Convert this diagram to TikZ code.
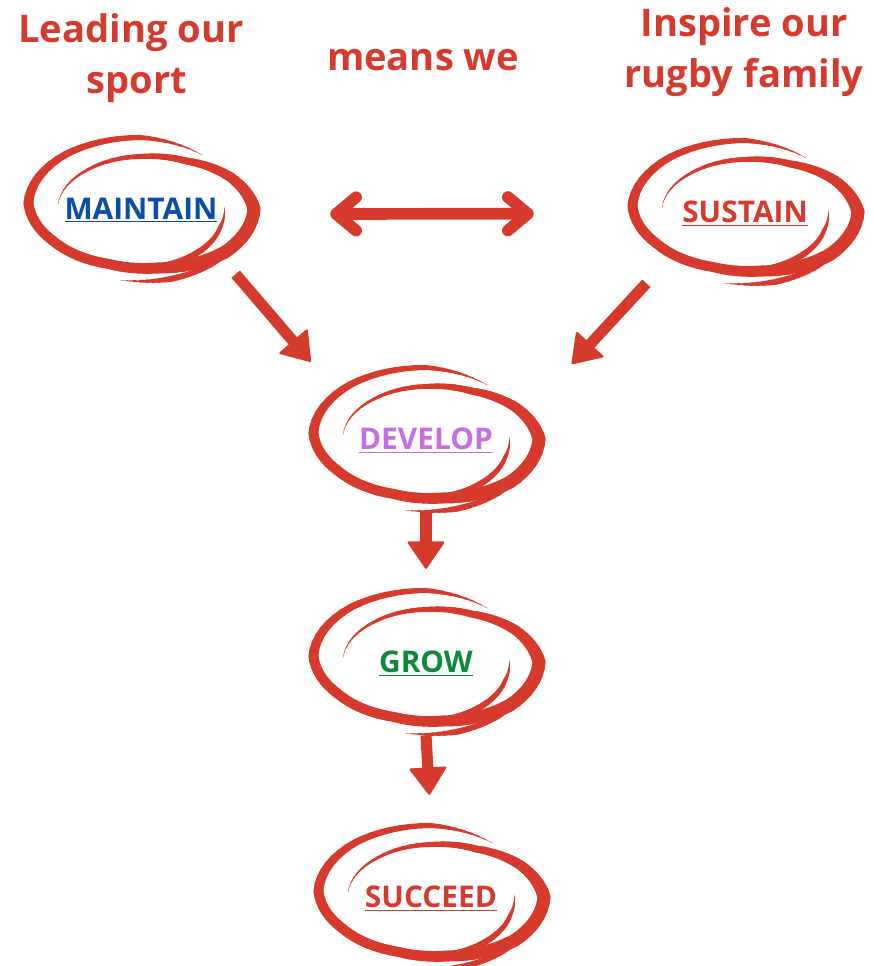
\documentclass[tikz,border=0pt]{standalone}
\usepackage{fontspec}
\setmainfont{Open Sans}
\usetikzlibrary{shapes.geometric}
\usetikzlibrary{arrows.meta}

\definecolor{rugred}{HTML}{D63A2D}
\definecolor{mblue}{HTML}{0B4DA9}
\definecolor{dvviolet}{HTML}{C66EE6}
\definecolor{grgreen}{HTML}{0A8A3A}

% one tapered brush stroke, knots t/s/w
\newcommand{\brush}[1]{%
	\foreach \ta/\sa/\wa/\tb/\sb/\wb in {#1} {
		\foreach \k in {1,...,8} {
			\pgfmathsetmacro{\tone}{\ta+(\tb-\ta)*(\k-1)/8}
			\pgfmathsetmacro{\ttwo}{\ta+(\tb-\ta)*\k/8}
			\pgfmathsetmacro{\sone}{\sa+(\sb-\sa)*(\k-1)/8}
			\pgfmathsetmacro{\stwo}{\sa+(\sb-\sa)*\k/8}
			\pgfmathsetmacro{\wid}{max(0.3,(\wa+(\wb-\wa)*(\k-0.5)/8)*0.8536)}
			\draw[rugred, line cap=round, line width=\wid pt]
				({119*\sone*cos(\tone)},{73*\sone*sin(\tone)}) -- ({119*\stwo*cos(\ttwo)},{73*\stwo*sin(\ttwo)});
		}
	}
}
\newcommand{\swirl}[1]{%
	\begin{scope}[shift={(#1.center)}]
		\brush{185/0.70/0/230/0.70/3, 230/0.70/3/270/0.72/5, 270/0.72/5/300/0.76/7,
			300/0.76/7/330/0.87/10, 330/0.87/10/360/0.95/13, 360/0.95/13/400/0.92/13,
			400/0.92/13/440/0.82/11, 440/0.82/11/470/0.80/10, 470/0.80/10/510/0.86/10,
			510/0.86/10/545/0.95/10, 545/0.95/10/590/0.98/7, 590/0.98/7/630/0.98/5,
			630/0.98/5/665/0.90/0}
		\brush{358/0.70/0/380/0.71/4, 380/0.71/4/410/0.76/6, 410/0.76/6/440/0.82/8}
		\brush{25/0.92/0/50/0.96/5, 50/0.96/5/75/0.99/6, 75/0.99/6/100/0.99/0}
	\end{scope}
}

\begin{document}
\begin{tikzpicture}[x=0.03cm,y=-0.03cm,
		head/.style={text=rugred,font=\bfseries\fontsize{32.5}{43.5}\selectfont,align=center,inner sep=0},
		ring/.style={ellipse,minimum width=7.14cm,minimum height=4.38cm,inner sep=0,text depth=0pt,font=\bfseries\fontsize{25.5}{30}\selectfont},
		fatarrow/.style={draw=rugred,line width=9.5pt,-{Triangle[length=0.85cm,width=1.15cm,round,line width=2pt]}},
		twoway/.style={draw=rugred,line width=10pt,line cap=round,{Straight Barb[length=0.6cm,width=1cm,round]}-{Straight Barb[length=0.6cm,width=1cm,round]}}]
		\useasboundingbox (0,0) rectangle (874,966);
		\node[head] at (131,58) (lead) {Leading our\\\hspace*{0.35cm}sport};
		\node[head] at (423,60) (means) {means we};
		\node[head] at (744,52) (inspire) {Inspire our\\rugby family};
		\node[ring,text=mblue] at (141,209) (maintain) {\underline{MAINTAIN}};
		\node[ring,text=rugred] at (745,212) (sustain) {\underline{SUSTAIN}};
		\node[ring,text=dvviolet] at (426,439) (develop) {\underline{DEVELOP}};
		\node[ring,text=grgreen] at (426,662) (grow) {\underline{GROW}};
		\node[ring,text=rugred] at (431,897) (succeed) {\underline{SUCCEED}};
		\swirl{maintain}
		\swirl{sustain}
		\swirl{develop}
		\swirl{grow}
		\swirl{succeed}
		\draw[twoway,shorten <=2.1cm,shorten >=2.76cm] ([yshift=-0.15cm]maintain.east) to ([yshift=-0.05cm]sustain.west);
		\draw[fatarrow,shorten <=0.51cm,shorten >=1.16cm] (maintain.-32.7) to (develop.152.3);
		\draw[fatarrow,shorten <=0.74cm,shorten >=1.73cm] (sustain.-147.9) to (develop.17.9);
		\draw[fatarrow,shorten >=0.6cm] (develop.south) to (grow.north);
		\draw[fatarrow,shorten >=0.87cm] (grow.south) to (succeed.north);
	\end{tikzpicture}
\end{document}
